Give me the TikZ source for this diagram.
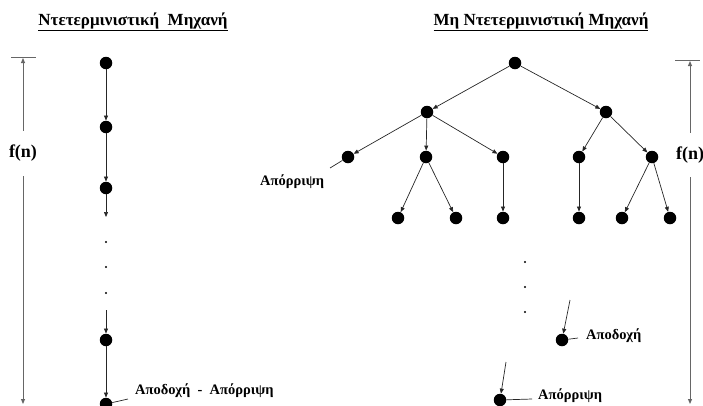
\documentclass[tikz,border=0pt]{standalone}
\usepackage{fontspec}
\setmainfont{Liberation Serif}
\usetikzlibrary{arrows.meta}
\begin{document}
\begin{tikzpicture}[x=1pt,y=-1pt,
  st/.style={circle,fill=black,inner sep=0pt,minimum size=12.5pt},
  arr/.style={draw=black!85,line width=0.7pt,-{Triangle[length=5pt,width=4pt]}},
  plain/.style={draw=black!85,line width=0.7pt},
  meas/.style={draw=black!60,line width=0.9pt},
  measarr/.style={meas,-{Triangle[length=5pt,width=4pt]}},
  lbl/.style={font=\bfseries\fontsize{14.5}{16}\selectfont,inner sep=0pt,anchor=west},
  ttl/.style={font=\bfseries\fontsize{17}{19}\selectfont,inner sep=0pt},
  fn/.style={font=\bfseries\fontsize{18}{20}\selectfont,inner sep=0pt},
  dot/.style={circle,fill=black,inner sep=0pt,minimum size=2.4pt}]
\useasboundingbox (0,0) rectangle (703,405);
\clip (0,0) rectangle (703,405);

% titles
\node[ttl] (t1) at (133,22) {\underline{Ντετερμινιστική\ \ Μηχανή}};
\node[ttl] (t2) at (541,22) {\underline{Μη Ντετερμινιστική Μηχανή}};

% left measure f(n)
\draw[meas] (11,57) -- (36,57);
\coordinate (lt) at (23,58);
\coordinate (lb) at (23,404);
\node[fn] (fl) at (23,153) {f(n)};
\draw[measarr] ([yshift=14pt]fl.north) -- (lt);
\draw[measarr] ([yshift=-15pt]fl.south) -- (lb);

% right measure f(n)
\draw[meas] (675,60) -- (700,60);
\coordinate (rt) at (690,61);
\coordinate (rb) at (690,404);
\node[fn] (fr) at (690,155) {f(n)};
\draw[measarr] ([yshift=14pt]fr.north) -- (rt);
\draw[measarr] ([yshift=-14pt]fr.south) -- (rb);

% deterministic chain
\node[st] (d1) at (106,63) {};
\node[st] (d2) at (106,127) {};
\node[st] (d3) at (106,188) {};
\coordinate (d3e) at (106,217);
\node[dot] (e1) at (106,242) {};
\node[dot] (e2) at (106,267) {};
\node[dot] (e3) at (106,293) {};
\coordinate (d4s) at (106,310);
\node[st] (d4) at (106,340) {};
\node[st] (d5) at (106,404) {};
\draw[arr] (d1) -- (d2);
\draw[arr] (d2) -- (d3);
\draw[arr] (d3) -- (d3e);
\draw[arr] (d4s) -- (d4);
\draw[arr] (d4) -- (d5);
\node[lbl] (l1) at (135,391) {Αποδοχή\ \ -\ \ Απόρριψη};
\coordinate (l1c) at (128,399);
\draw[plain] (d5) -- (l1c);

% non-deterministic tree
\node[st] (r) at (515,63) {};
\node[st] (a) at (427,112) {};
\node[st] (b) at (606,112) {};
\node[st] (a1) at (348,157) {};
\node[st] (a2) at (426,157) {};
\node[st] (a3) at (503,157) {};
\node[st] (b1) at (579,157) {};
\node[st] (b2) at (652,157) {};
\node[st] (a21) at (398,218) {};
\node[st] (a22) at (456,218) {};
\node[st] (a31) at (503,218) {};
\node[st] (b11) at (579,218) {};
\node[st] (b21) at (622,218) {};
\node[st] (b22) at (670,218) {};
\draw[arr] (r) -- (a);
\draw[arr] (r) -- (b);
\draw[arr] (a) -- (a1);
\draw[arr] (a) -- (a2);
\draw[arr] (a) -- (a3);
\draw[arr] (b) -- (b1);
\draw[arr] (b) -- (b2);
\draw[arr] (a2) -- (a21);
\draw[arr] (a2) -- (a22);
\draw[arr] (a3) -- (a31);
\draw[arr] (b1) -- (b11);
\draw[arr] (b2) -- (b21);
\draw[arr] (b2) -- (b22);

% rejection at the first level
\node[lbl] (rj1) at (260,182) {Απόρριψη};
\coordinate (rj1c) at (330,168);
\draw[plain] (a1) -- (rj1c);

% continuation dots
\node[dot] (f1) at (525,262) {};
\node[dot] (f2) at (525,287) {};
\node[dot] (f3) at (525,312) {};

% accepting leaf
\coordinate (acs) at (570,300);
\node[st] (ac) at (562,340) {};
\draw[arr] (acs) -- (ac);
\node[lbl] (acl) at (586,336) {Αποδοχή};
\coordinate (acc) at (578,338);
\draw[plain] (ac) -- (acc);

% rejecting leaf
\coordinate (rjs) at (506,362) ;
\node[st] (rj) at (500,400) {};
\draw[arr] (rjs) -- (rj);
\node[lbl] (rjl) at (538,396) {Απόρριψη};
\coordinate (rjc) at (532,399);
\draw[plain] (rj) -- (rjc);
\end{tikzpicture}
\end{document}
